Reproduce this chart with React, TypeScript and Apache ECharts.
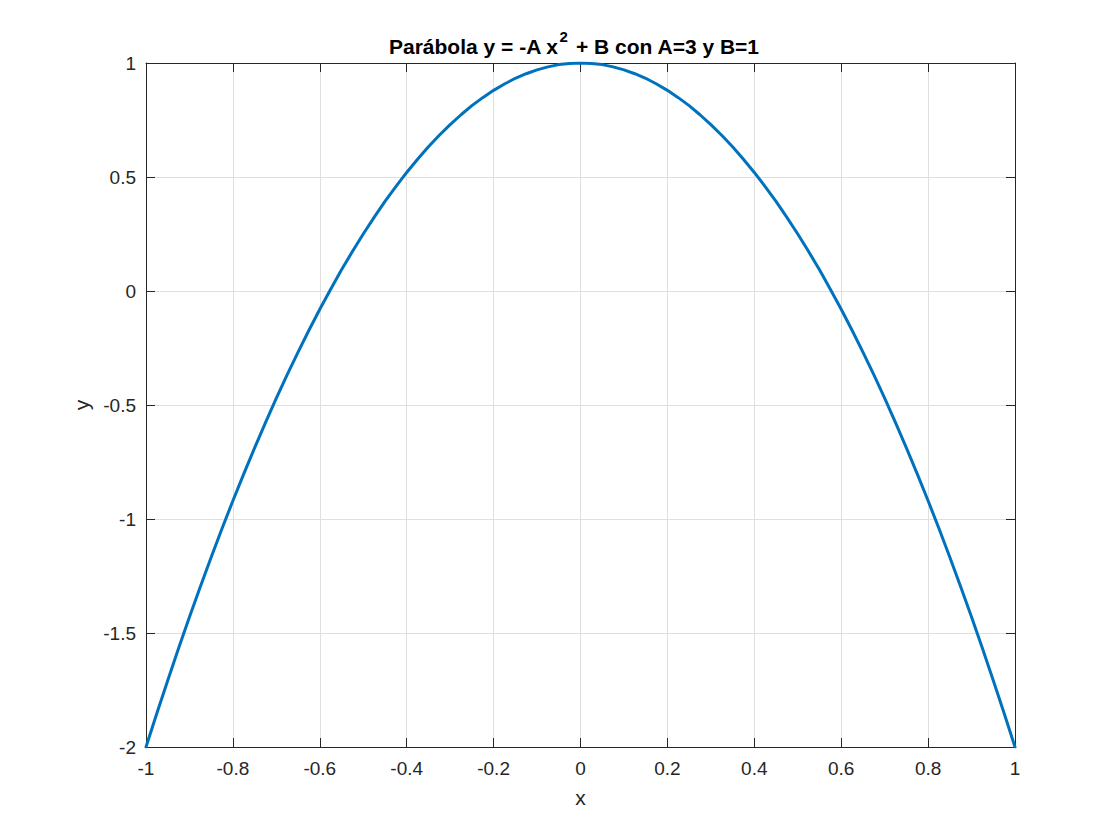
import React, { useEffect, useRef } from "react";
import * as echarts from "echarts";

const xValues = [
  -1, -0.975, -0.95, -0.925, -0.9, -0.875, -0.85, -0.825, -0.8, -0.775, -0.75, -0.725, -0.7, -0.675, -0.65, -0.625, -0.6, -0.575, -0.55, -0.525,
  -0.5, -0.475, -0.45, -0.425, -0.4, -0.375, -0.35, -0.325, -0.3, -0.275, -0.25, -0.225, -0.2, -0.175, -0.15, -0.125, -0.1, -0.075, -0.05, -0.025,
  0,
  0.025, 0.05, 0.075, 0.1, 0.125, 0.15, 0.175, 0.2, 0.225, 0.25, 0.275, 0.3, 0.325, 0.35, 0.375, 0.4, 0.425, 0.45, 0.475,
  0.5, 0.525, 0.55, 0.575, 0.6, 0.625, 0.65, 0.675, 0.7, 0.725, 0.75, 0.775, 0.8, 0.825, 0.85, 0.875, 0.9, 0.925, 0.95, 0.975, 1,
];
const yValues = [
  -2, -1.852, -1.708, -1.567, -1.43, -1.297, -1.168, -1.042, -0.92, -0.802, -0.688, -0.577, -0.47, -0.367, -0.268, -0.172, -0.08, 0.008, 0.093, 0.173,
  0.25, 0.323, 0.393, 0.458, 0.52, 0.578, 0.633, 0.683, 0.73, 0.773, 0.813, 0.848, 0.88, 0.908, 0.933, 0.953, 0.97, 0.983, 0.993, 0.998,
  1,
  0.998, 0.993, 0.983, 0.97, 0.953, 0.933, 0.908, 0.88, 0.848, 0.813, 0.773, 0.73, 0.683, 0.633, 0.578, 0.52, 0.458, 0.393, 0.323,
  0.25, 0.173, 0.093, 0.008, -0.08, -0.172, -0.268, -0.367, -0.47, -0.577, -0.688, -0.802, -0.92, -1.042, -1.168, -1.297, -1.43, -1.567, -1.708, -1.852, -2,
];
const titleParts = ["Parábola y = -A x", "2", " + B con A=3 y B=1"];
const xLabel = "x";
const yLabel = "y";

const FONT = "'Liberation Sans', Arial, Helvetica, sans-serif";
const TICK_COLOR = "#262626";

function fmt(v: number): string {
  const r = Math.round(v * 10) / 10;
  if (Math.abs(r) < 1e-9) return "0";
  return String(r);
}

export default function App() {
  const ref = useRef<HTMLDivElement>(null);
  useEffect(() => {
    if (!ref.current) return;
    const chart = echarts.init(ref.current, undefined, { renderer: "svg" });
    const axisLine = { show: true, onZero: false, lineStyle: { color: TICK_COLOR, width: 1 } };
    const axisTick = { show: true, inside: true, length: 9, lineStyle: { color: TICK_COLOR, width: 1 } };
    const splitLine = { show: true, lineStyle: { color: "#dfdfdf", width: 1 } };
    chart.setOption({
      animation: false,
      backgroundColor: "#ffffff",
      title: {
        text: `{b|${titleParts[0]}}{sup|${titleParts[1]}}{b|${titleParts[2]}}`,
        left: 574,
        textAlign: "center",
        top: 31,
        padding: 0,
        textStyle: {
          rich: {
            b: { fontFamily: FONT, fontSize: 21, fontWeight: "bold", color: "#000", lineHeight: 30 },
            sup: { fontFamily: FONT, fontSize: 15, fontWeight: "bold", color: "#000", lineHeight: 30, padding: [0, 2, 20, 1] },
          },
        },
      },
      grid: { left: 146, top: 63, right: 105, bottom: 93, containLabel: false },
      xAxis: [
        {
          type: "value",
          min: -1,
          max: 1,
          interval: 0.2,
          position: "bottom",
          axisLine,
          axisTick,
          splitLine,
          axisLabel: { formatter: fmt, color: TICK_COLOR, fontFamily: FONT, fontSize: 19, margin: 12 },
          name: xLabel,
          nameLocation: "middle",
          nameGap: 40,
          nameTextStyle: { fontFamily: FONT, fontSize: 21, color: TICK_COLOR },
        },
        {
          type: "value",
          min: -1,
          max: 1,
          interval: 0.2,
          position: "top",
          axisLine,
          axisTick,
          splitLine: { show: false },
          axisLabel: { show: false },
        },
      ],
      yAxis: [
        {
          type: "value",
          min: -2,
          max: 1,
          interval: 0.5,
          position: "left",
          axisLine,
          axisTick,
          splitLine,
          axisLabel: { formatter: fmt, color: TICK_COLOR, fontFamily: FONT, fontSize: 19, margin: 10 },
          name: yLabel,
          nameLocation: "middle",
          nameGap: 48,
          nameRotate: 90,
          nameTextStyle: { fontFamily: FONT, fontSize: 21, color: TICK_COLOR },
        },
        {
          type: "value",
          min: -2,
          max: 1,
          interval: 0.5,
          position: "right",
          axisLine,
          axisTick,
          splitLine: { show: false },
          axisLabel: { show: false },
        },
      ],
      series: [
        {
          type: "line",
          data: xValues.map((x, i) => [x, yValues[i]]),
          smooth: false,
          showSymbol: false,
          symbol: "none",
          lineStyle: { color: "#0072BD", width: 3, join: "round", cap: "round" },
          z: 5,
        },
      ],
    });
    return () => chart.dispose();
  }, []);
  return <div ref={ref} style={{ position: "absolute", left: 0, top: 0, width: 1120, height: 840 }} />;
}
